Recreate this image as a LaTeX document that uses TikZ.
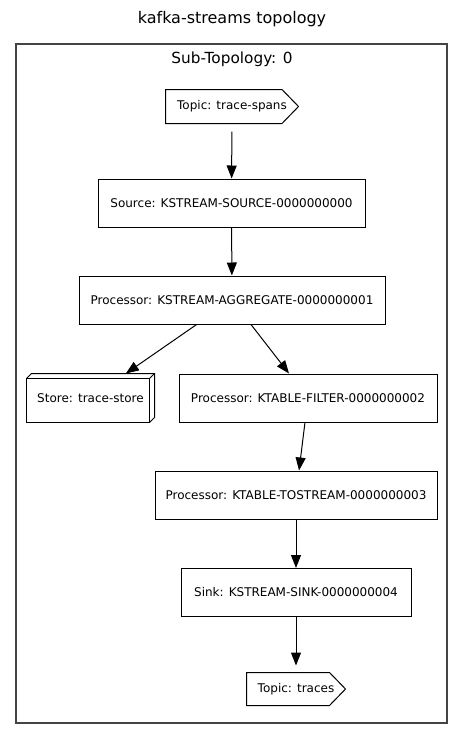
\documentclass[tikz,border=0pt]{standalone}
\usepackage{fontspec}
\setmainfont{DejaVu Sans}
\usepackage{xcolor}
\definecolor{frame}{RGB}{68,68,68}
\usepackage{tikz}
\usetikzlibrary{arrows.meta}
\newcommand{\nodefont}{\fontsize{12}{14}\selectfont}
% outline of a topic: box with a pointed right end
\newcommand{\topicbox}[2]{
    \draw (#1.north west) -- ([xshift=-#2]#1.north east) -- (#1.east)
        -- ([xshift=-#2]#1.south east) -- (#1.south west) -- cycle;
}
\tikzstyle{proc} = [
    draw, rectangle, inner sep=0pt, minimum height=48pt, font=\nodefont,
]
\tikzstyle{topic} = [
    rectangle, inner sep=0pt, font=\nodefont,
]
\tikzstyle{store} = [
    rectangle, inner sep=0pt, minimum width=127pt, minimum height=48pt, font=\nodefont,
]
\tikzstyle{cluster} = [draw=frame, line width=1.8pt]
\tikzstyle{arrow} = [-{Triangle[length=13pt,width=10pt]}]
\begin{document}
\begin{tikzpicture}[x=1pt, y=-1pt, line width=1pt]
    \useasboundingbox (0,0) rectangle (464,740);

    \node (title) at (232, 23) [anchor=base, font=\fontsize{16}{18}\selectfont] {kafka-streams topology};
    \draw [cluster] (16, 44) rectangle (447, 723);
    \node (sub0) at (232, 63) [anchor=base, font=\fontsize{15.3}{18}\selectfont] {Sub-Topology: 0};

    % sources and processors
    \node (spans) at (232, 106.5) [topic, minimum width=132pt, minimum height=33pt] {Topic: trace-spans};
    \node (source) at (231.5, 203) [proc, minimum width=267pt] {Source: KSTREAM-SOURCE-0000000000};
    \node (aggregate) at (232, 300) [proc, minimum width=306pt] {Processor: KSTREAM-AGGREGATE-0000000001};
    \node (store) at (90.5, 398) [store] {Store: trace-store};
    \node (filter) at (308, 398) [proc, minimum width=258pt] {Processor: KTABLE-FILTER-0000000002};
    \node (tostream) at (296, 495) [proc, minimum width=282pt] {Processor: KTABLE-TOSTREAM-0000000003};
    \node (sink) at (296, 592.5) [proc, minimum width=230pt] {Sink: KSTREAM-SINK-0000000004};
    \node (traces) at (296, 689) [topic, minimum width=98pt, minimum height=32pt] {Topic: traces};

    \topicbox{spans}{16.5pt}
    \topicbox{traces}{16pt}

    % 3d box of the store
    \draw ([yshift=-5pt]store.north west) rectangle ([xshift=-5pt]store.south east);
    \draw ([yshift=-5pt]store.north west) -- ([xshift=5pt]store.north west) -- (store.north east)
        -- ([yshift=5pt]store.south east) -- ([xshift=-5pt]store.south east);
    \draw ([xshift=-5pt, yshift=-5pt]store.north east) -- (store.north east);

    \draw [arrow, shorten <=8pt] (spans) -- (source);
    \draw [arrow] (source) -- (aggregate);
    \draw [arrow] (aggregate) -- (store);
    \draw [arrow] (aggregate) -- (filter);
    \draw [arrow] (filter) -- (tostream);
    \draw [arrow] (tostream) -- (sink);
    \draw [arrow, shorten >=7pt] (sink) -- (traces);
\end{tikzpicture}
\end{document}
